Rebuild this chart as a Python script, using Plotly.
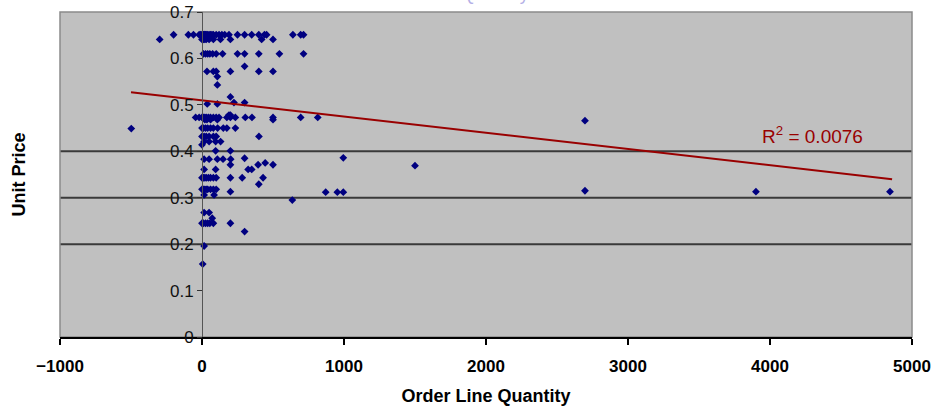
import plotly.graph_objects as go

# ---- data ----
rows = {
    0.651: [-200, -96, -60, -20, -10, 0, 5, 10, 15, 20, 25, 30, 40, 50, 60, 70, 80, 100,
            120, 140, 160, 190, 250, 300, 350, 400, 440, 455, 640, 695, 715],
    0.641: [-298, 0, 10, 20, 30, 50, 80, 130, 200, 420, 500],
    0.61: [10, 25, 40, 55, 75, 100, 145, 250, 300, 400, 545, 715],
    0.583: [300],
    0.572: [35, 80, 100, 200, 400, 500],
    0.561: [108],
    0.543: [108],
    0.517: [200],
    0.505: [225, 300],
    0.502: [37, 108],
    0.478: [190, 200],
    0.473: [-45, -20, 0, 10, 20, 30, 45, 60, 80, 100, 120, 175, 200, 235, 305, 352, 500, 695, 815],
    0.468: [20, 35, 60, 108, 500],
    0.45: [0, 10, 25, 40, 60, 80, 110, 150, 175, 235],
    0.432: [0, 15, 30, 50, 80, 100, 401],
    0.421: [15, 50, 96, 131],
    0.414: [0],
    0.401: [96, 200],
    0.385: [300],
    0.383: [15, 50, 108, 148, 202],
    0.375: [445],
    0.371: [200, 395, 500],
    0.361: [15, 96, 325, 350],
    0.343: [0, 10, 20, 30, 45, 60, 80, 100, 200, 283, 430],
    0.329: [400],
    0.318: [0, 10, 20, 30, 40, 60, 80, 100],
    0.313: [200],
    0.306: [15, 85],
    0.295: [636],
    0.268: [15, 50],
    0.256: [72],
    0.245: [0, 10, 25, 40, 55, 80, 200],
    0.227: [300],
    0.196: [15],
    0.157: [5],
}
outlier_qty = [-498, 995, 1500, 871, 953, 995, 2697, 2697, 3901, 4845]
outlier_price = [0.449, 0.386, 0.369, 0.312, 0.312, 0.312, 0.466, 0.315, 0.313, 0.313]

order_qty = [q for p, qs in rows.items() for q in qs] + outlier_qty
unit_price = [p for p, qs in rows.items() for q in qs] + outlier_price

trend_x = [-500, 4860]
trend_y = [0.527, 0.340]
r2_text = "R<sup>2</sup> = 0.0076"
grid_levels = [0.2, 0.3, 0.4]

x_ticks = [-1000, 0, 1000, 2000, 3000, 4000, 5000]
y_ticks = [0, 0.1, 0.2, 0.3, 0.4, 0.5, 0.6, 0.7]
y_labels = ["0", "0.1", "0.2", "0.3", "0.4", "0.5", "0.6", "0.7"]

FONT = "Arial, Liberation Sans, sans-serif"

fig = go.Figure()
fig.add_trace(go.Scatter(
    x=order_qty, y=unit_price, mode="markers",
    marker=dict(symbol="diamond", size=6, color="#000080", line=dict(width=0)),
    showlegend=False, cliponaxis=False))
fig.add_trace(go.Scatter(
    x=trend_x, y=trend_y, mode="lines",
    line=dict(color="#990000", width=2), showlegend=False))

for g in grid_levels:
    fig.add_hline(y=g, line=dict(color="#3a3a3a", width=2), layer="below")

fig.add_shape(type="rect", xref="paper", yref="paper", x0=0, x1=1, y0=0, y1=1,
              line=dict(color="#8a8a8a", width=1.5), layer="below")

fig.add_annotation(x=4300, y=0.436, text=r2_text, showarrow=False,
                   font=dict(family=FONT, size=19, color="#990000"))
fig.add_annotation(xref="paper", yref="paper", x=-42 / 852, y=0.5, text="<b>Unit Price</b>",
                   textangle=-90, showarrow=False, xanchor="center", yanchor="middle",
                   font=dict(family=FONT, size=18, color="#000000"))

fig.update_layout(
    width=932, height=406,
    margin=dict(l=60, r=20, t=12, b=69, autoexpand=False),
    paper_bgcolor="#ffffff", plot_bgcolor="#c0c0c0",
    title=dict(text="Order Line Quantity vs Price", x=0.52, xanchor="center",
               y=1.0, yanchor="bottom", yref="container", automargin=False,
               font=dict(family=FONT, size=18, color="#b4b0e6")),
    font=dict(family=FONT, color="#000000"),
    xaxis=dict(range=[-1000, 5000], tickvals=x_ticks, ticks="outside", ticklen=6,
               tickwidth=2, tickcolor="#000000", showline=True, linecolor="#000000",
               linewidth=2, showgrid=False, zeroline=False, automargin=False,
               ticklabelstandoff=7,
               tickfont=dict(size=17, family=FONT, weight="bold"),
               title=dict(text="<b>Order Line Quantity</b>", font=dict(size=18), standoff=22)),
    yaxis=dict(range=[0, 0.7], tickmode="array", tickvals=y_ticks, ticktext=y_labels,
               ticks="outside", ticklen=5, tickcolor="#333333", automargin=False,
               showline=True, linecolor="#555555", linewidth=1, showgrid=False, zeroline=False,
               anchor="free", position=1 / 6, tickfont=dict(size=17, color="#111111")),
)

fig.write_html("out.html", config={"displayModeBar": False},
               post_script="document.body.style.margin='0px';")
